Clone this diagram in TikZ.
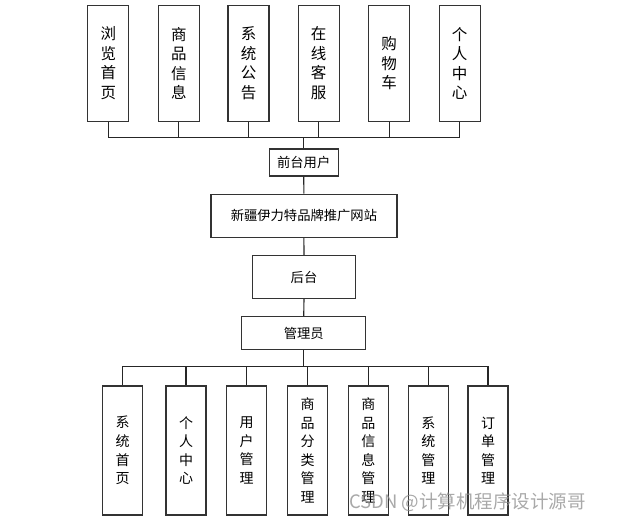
\documentclass[tikz,border=0pt]{standalone}
\usepackage{fontspec}
\newfontfamily\cjk{Noto Sans CJK SC}
\tikzset{
  every node/.style={font=\cjk\fontsize{13.3}{19}\selectfont},
  tall/.style={draw=black!80, line width=1.2pt, minimum width=41pt, minimum height=116pt, align=center, inner sep=0pt, fill=white, font=\cjk\fontsize{15.5}{19.5}\selectfont},
  low/.style={draw=black!80, line width=1.2pt, minimum width=40pt, minimum height=129pt, align=center, inner sep=0pt, fill=white, font=\cjk\fontsize{14}{18.6}\selectfont},
  wide/.style={draw=black!80, line width=1.2pt, align=center, inner sep=0pt, fill=white},
  conn/.style={draw=black!85, line width=1.1pt},
}
\begin{document}
\begin{tikzpicture}[x=1pt,y=-1pt]
\useasboundingbox (0,0) rectangle (617,523);
% top boxes
\foreach \n/\x/\t in {t1/108.3/浏\\览\\首\\页, t2/178.8/商\\品\\信\\息, t3/248.5/系\\统\\公\\告, t4/318.7/在\\线\\客\\服, t5/389.2/购\\物\\车, t6/459.7/个\\人\\中\\心}
  \node[tall] (\n) at (\x,63.3) {\t};
\node[wide, minimum width=69pt, minimum height=27pt] (fu) at (303.7,162.5) {前台用户};
\node[wide, minimum width=186pt, minimum height=43pt] (web) at (303.9,215.8) {新疆伊力特品牌推广网站};
\node[wide, minimum width=103pt, minimum height=43pt] (bg) at (304,277) {后台};
\node[wide, minimum width=124pt, minimum height=33pt] (adm) at (303.7,333.2) {管理员};
% bottom boxes
\foreach \n/\x/\t in {b1/122.7/系\\统\\首\\页, b2/186/个\\人\\中\\心, b3/246.7/用\\户\\管\\理, b4/307.5/商\\品\\分\\类\\管\\理, b5/368.3/商\\品\\信\\息\\管\\理, b6/428.3/系\\统\\管\\理, b7/488/订\\单\\管\\理}
  \node[low] (\n) at (\x,450.5) {\t};
% top bus
\coordinate (tb) at (303.7,137.3);
\foreach \n in {t1,t2,t3,t4,t5,t6}
  \draw[conn] (\n.south) |- (tb);
\draw[conn] (tb) -- (fu.north);
\draw[conn] (fu.south) -- (web.north);
\draw[conn] (web.south) -- (bg.north);
\draw[conn] (bg.south) -- (adm.north);
% bottom bus
\coordinate (bb) at (303.7,366.8);
\draw[conn] (adm.south) -- (bb);
\foreach \n in {b1,b2,b3,b4,b5,b6,b7}
  \draw[conn] (bb) -| (\n.north);
% watermark
\node[text=black!45, opacity=0.75, font=\cjk\fontsize{18.5}{20}\selectfont, anchor=west, inner sep=0pt] (wm) at (349,502.5) {CSDN @计算机程序设计源哥};
\end{tikzpicture}
\end{document}
